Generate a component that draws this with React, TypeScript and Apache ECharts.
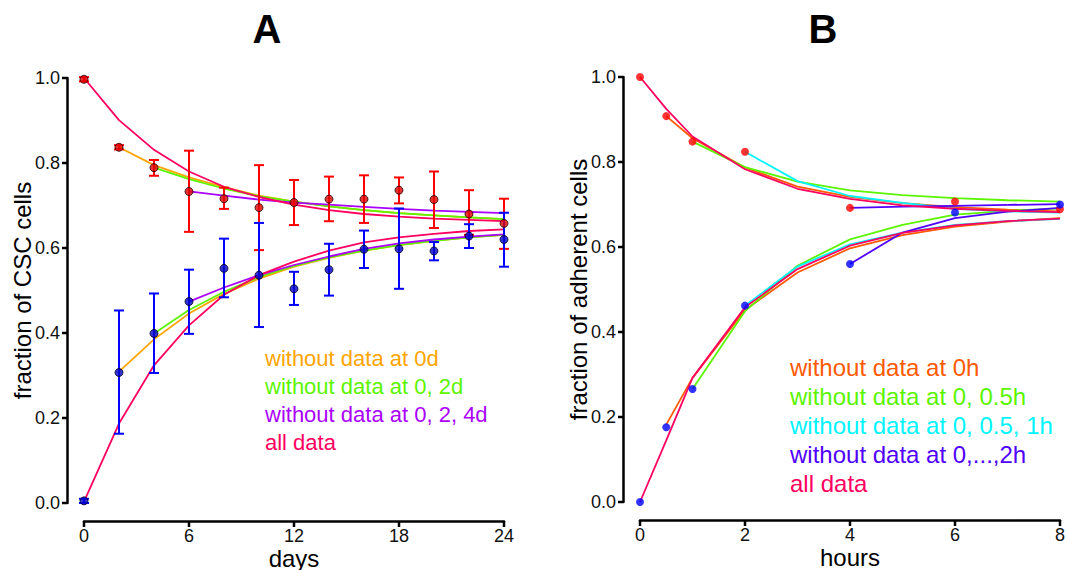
import React, { useEffect, useRef } from "react";
import * as echarts from "echarts";

// ---------- Panel A data (days) ----------
const daysPts = [0, 2, 4, 6, 8, 10, 12, 14, 16, 18, 20, 22, 24];
const cscRedMean = [0.997, 0.837, 0.789, 0.733, 0.716, 0.695, 0.707, 0.715, 0.715, 0.736, 0.714, 0.68, 0.658];
const cscRedLow = [0.992, 0.832, 0.77, 0.638, 0.692, 0.595, 0.654, 0.663, 0.659, 0.705, 0.647, 0.631, 0.598];
const cscRedHigh = [1.002, 0.842, 0.807, 0.829, 0.742, 0.795, 0.76, 0.768, 0.771, 0.766, 0.78, 0.736, 0.716];
const cscBlueMean = [0.005, 0.307, 0.399, 0.474, 0.552, 0.536, 0.504, 0.549, 0.597, 0.598, 0.593, 0.628, 0.62];
const cscBlueLow = [0.0, 0.163, 0.306, 0.398, 0.484, 0.414, 0.466, 0.488, 0.553, 0.504, 0.571, 0.6, 0.556];
const cscBlueHigh = [0.01, 0.453, 0.493, 0.549, 0.622, 0.659, 0.544, 0.61, 0.641, 0.693, 0.614, 0.656, 0.683];

const daysFit = [0, 2, 4, 6, 8, 10, 12, 14, 16, 18, 20, 22, 24];
const fitANames = ["without data at 0d", "without data at 0, 2d", "without data at 0, 2, 4d", "all data"];
const fitAColors = ["#FFA500", "#5CF500", "#AA00FF", "#FF0060"];
const fitAStart = [1, 2, 3, 0]; // index into daysFit where each fit begins
const fitADown = [
  [0.837, 0.795, 0.766, 0.743, 0.723, 0.709, 0.698, 0.689, 0.682, 0.677, 0.672, 0.668],
  [0.789, 0.762, 0.74, 0.722, 0.709, 0.698, 0.689, 0.682, 0.677, 0.672, 0.668],
  [0.733, 0.723, 0.714, 0.707, 0.702, 0.697, 0.692, 0.688, 0.685, 0.682],
  [1.0, 0.901, 0.831, 0.78, 0.744, 0.72, 0.702, 0.689, 0.68, 0.674, 0.669, 0.666, 0.663],
];
const fitAUp = [
  [0.309, 0.385, 0.446, 0.492, 0.528, 0.556, 0.577, 0.594, 0.607, 0.617, 0.625, 0.631],
  [0.399, 0.454, 0.497, 0.532, 0.558, 0.578, 0.594, 0.607, 0.617, 0.625, 0.631],
  [0.474, 0.507, 0.536, 0.56, 0.58, 0.598, 0.611, 0.62, 0.627, 0.632],
  [0.003, 0.187, 0.324, 0.418, 0.49, 0.536, 0.568, 0.594, 0.613, 0.625, 0.633, 0.64, 0.644],
];

// ---------- Panel B data (hours) ----------
const hoursPts = [0, 0.5, 1, 2, 4, 6, 8];
const adhRed = [1.0, 0.908, 0.848, 0.824, 0.692, 0.707, 0.689];
const adhBlue = [0.0, 0.176, 0.266, 0.462, 0.56, 0.681, 0.7];

const hoursFit = [0, 0.5, 1, 2, 3, 4, 5, 6, 7, 8];
const fitBNames = [
  "without data at 0h",
  "without data at 0, 0.5h",
  "without data at 0, 0.5, 1h",
  "without data at 0,...,2h",
  "all data",
];
const fitBColors = ["#FF5A00", "#5CF500", "#00F5FF", "#5000FF", "#FF0060"];
const fitBStart = [1, 2, 3, 5, 0];
const fitBDown = [
  [0.908, 0.856, 0.787, 0.742, 0.718, 0.703, 0.694, 0.688, 0.684],
  [0.848, 0.788, 0.754, 0.733, 0.722, 0.715, 0.71, 0.707],
  [0.824, 0.755, 0.72, 0.704, 0.69, 0.684, 0.681],
  [0.692, 0.695, 0.697, 0.699, 0.701],
  [1.0, 0.925, 0.86, 0.783, 0.737, 0.713, 0.698, 0.69, 0.685, 0.682],
];
const fitBUp = [
  [0.182, 0.292, 0.452, 0.54, 0.597, 0.628, 0.648, 0.66, 0.668],
  [0.266, 0.449, 0.556, 0.618, 0.652, 0.676, 0.685, 0.691],
  [0.462, 0.554, 0.606, 0.634, 0.652, 0.661, 0.666],
  [0.56, 0.634, 0.668, 0.683, 0.692],
  [0.0, 0.145, 0.292, 0.458, 0.548, 0.603, 0.633, 0.651, 0.661, 0.667],
];

const yTicks = [0, 0.2, 0.4, 0.6, 0.8, 1.0];
const xTicksA = [0, 6, 12, 18, 24];
const xTicksB = [0, 2, 4, 6, 8];
const FONT = "Liberation Sans, Arial, Helvetica, sans-serif";
const AXIS_COLOR = "black";
const X_OFF = 18;
const Y_OFF = 17;

function App() {
  const ref = useRef<HTMLDivElement>(null);

  useEffect(() => {
    if (!ref.current) return;
    const chart = echarts.init(ref.current, null, { renderer: "svg" });

    const axisCommonY = (gridIndex: number, name: string) => ({
      type: "value",
      gridIndex,
      position: "left",
      min: yTicks[0],
      max: yTicks[yTicks.length - 1],
      interval: 0.2,
      offset: Y_OFF,
      name,
      nameLocation: "middle",
      nameGap: 33,
      nameMoveOverlap: false,
      nameTextStyle: { fontSize: 24, color: "#000", fontFamily: FONT },
      axisLine: { show: true, onZero: false, lineStyle: { color: AXIS_COLOR, width: 2.5, type: "solid" } },
      axisTick: { show: false },
      axisLabel: {
        fontSize: 18,
        color: "#111",
        fontFamily: FONT,
        margin: 7,
        formatter: (v: number) => v.toFixed(1),
      },
      splitLine: { show: false },
    });

    const axisCommonX = (gridIndex: number, name: string, ticks: number[]) => ({
      type: "value",
      gridIndex,
      position: "bottom",
      min: ticks[0],
      max: ticks[ticks.length - 1],
      interval: ticks[1] - ticks[0],
      offset: X_OFF,
      name,
      nameLocation: "middle",
      nameGap: 25,
      nameMoveOverlap: false,
      nameTextStyle: { fontSize: 24, color: "#000", fontFamily: FONT, verticalAlign: "top" },
      axisLine: { show: true, onZero: false, lineStyle: { color: AXIS_COLOR, width: 2.5, type: "solid" } },
      axisTick: { show: false },
      axisLabel: { fontSize: 18, color: "#111", fontFamily: FONT, margin: 6 },
      splitLine: { show: false },
    });

    // outward R-style ticks, placed through the axes' scales
    const xTickDecor = (idx: number, ticks: number[]) => ({
      type: "custom",
      xAxisIndex: idx,
      yAxisIndex: idx,
      clip: false,
      z: 5,
      data: ticks.map((t) => [t, yTicks[0]]),
      encode: { x: 0, y: 1 },
      renderItem: (_params: any, api: any) => {
        const p = api.coord([api.value(0), api.value(1)]);
        const y = p[1] + X_OFF;
        return {
          type: "line",
          shape: { x1: p[0], y1: y, x2: p[0], y2: y + 6 },
          style: { stroke: AXIS_COLOR, lineWidth: 2.5 },
        };
      },
    });

    const yTickDecor = (idx: number, xMin: number) => ({
      type: "custom",
      xAxisIndex: idx,
      yAxisIndex: idx,
      clip: false,
      z: 5,
      data: yTicks.map((v) => [xMin, v]),
      encode: { x: 0, y: 1 },
      renderItem: (_params: any, api: any) => {
        const p = api.coord([api.value(0), api.value(1)]);
        const x = p[0] - Y_OFF;
        return {
          type: "line",
          shape: { x1: x, y1: p[1], x2: x - 5, y2: p[1] },
          style: { stroke: AXIS_COLOR, lineWidth: 2.5 },
        };
      },
    });

    const errorSeries = (mean: number[], low: number[], high: number[], color: string) => ({
      type: "custom",
      xAxisIndex: 0,
      yAxisIndex: 0,
      z: 3,
      clip: false,
      data: daysPts.map((d, i) => [d, low[i], high[i], mean[i]]),
      encode: { x: 0, y: [1, 2] },
      renderItem: (_params: any, api: any) => {
        const x = api.value(0);
        const pLo = api.coord([x, api.value(1)]);
        const pHi = api.coord([x, api.value(2)]);
        const w = 5;
        const st = { stroke: color, lineWidth: 2 };
        return {
          type: "group",
          children: [
            { type: "line", shape: { x1: pLo[0], y1: pLo[1], x2: pHi[0], y2: pHi[1] }, style: st },
            { type: "line", shape: { x1: pLo[0] - w, y1: pLo[1], x2: pLo[0] + w, y2: pLo[1] }, style: st },
            { type: "line", shape: { x1: pHi[0] - w, y1: pHi[1], x2: pHi[0] + w, y2: pHi[1] }, style: st },
          ],
        };
      },
    });

    const lineSeries = (
      xs: number[],
      start: number,
      vals: number[],
      color: string,
      axis: number,
      name: string
    ) => ({
      type: "line",
      name,
      xAxisIndex: axis,
      yAxisIndex: axis,
      data: xs.slice(start).map((x, i) => [x, vals[i]]),
      symbol: "none",
      smooth: false,
      clip: false,
      z: 2,
      lineStyle: { color, width: 1.8 },
      itemStyle: { color },
    });

    const series: any[] = [];
    fitANames.forEach((n, k) => {
      series.push(lineSeries(daysFit, fitAStart[k], fitADown[k], fitAColors[k], 0, n));
      series.push(lineSeries(daysFit, fitAStart[k], fitAUp[k], fitAColors[k], 0, n));
    });
    fitBNames.forEach((n, k) => {
      series.push(lineSeries(hoursFit, fitBStart[k], fitBDown[k], fitBColors[k], 1, n));
      series.push(lineSeries(hoursFit, fitBStart[k], fitBUp[k], fitBColors[k], 1, n));
    });
    series.push(errorSeries(cscRedMean, cscRedLow, cscRedHigh, "#FF0000"));
    series.push(errorSeries(cscBlueMean, cscBlueLow, cscBlueHigh, "#0000FF"));
    series.push({
      type: "scatter",
      xAxisIndex: 0,
      yAxisIndex: 0,
      z: 4,
      clip: false,
      symbolSize: 8,
      data: daysPts.map((d, i) => [d, cscRedMean[i]]),
      itemStyle: { color: "#E00000", borderColor: "#200000", borderWidth: 1 },
    });
    series.push({
      type: "scatter",
      xAxisIndex: 0,
      yAxisIndex: 0,
      z: 4,
      clip: false,
      symbolSize: 8,
      data: daysPts.map((d, i) => [d, cscBlueMean[i]]),
      itemStyle: { color: "#0000C8", borderColor: "#000020", borderWidth: 1 },
    });
    series.push({
      type: "scatter",
      xAxisIndex: 1,
      yAxisIndex: 1,
      z: 4,
      clip: false,
      symbolSize: 8,
      data: hoursPts.map((h, i) => [h, adhRed[i]]),
      itemStyle: { color: "#FF0000" },
    });
    series.push({
      type: "scatter",
      xAxisIndex: 1,
      yAxisIndex: 1,
      z: 4,
      clip: false,
      symbolSize: 8,
      data: hoursPts.map((h, i) => [h, adhBlue[i]]),
      itemStyle: { color: "#0000FF" },
    });
    series.push(xTickDecor(0, xTicksA));
    series.push(xTickDecor(1, xTicksB));
    series.push(yTickDecor(0, xTicksA[0]));
    series.push(yTickDecor(1, xTicksB[0]));

    const graphics: any[] = [
      {
        type: "text",
        x: 267,
        y: 29,
        style: { text: "A", font: `bold 40px ${FONT}`, fill: "#000", textAlign: "center", textVerticalAlign: "middle" },
      },
      {
        type: "text",
        x: 823,
        y: 29,
        style: { text: "B", font: `bold 40px ${FONT}`, fill: "#000", textAlign: "center", textVerticalAlign: "middle" },
      },
    ];
    fitANames.forEach((n, k) => {
      graphics.push({
        type: "text",
        x: 265,
        y: 358 + k * 28,
        style: { text: n, font: `22px ${FONT}`, fill: fitAColors[k], textAlign: "left", textVerticalAlign: "middle" },
      });
    });
    fitBNames.forEach((n, k) => {
      graphics.push({
        type: "text",
        x: 790,
        y: 367 + k * 29,
        style: { text: n, font: `24px ${FONT}`, fill: fitBColors[k], textAlign: "left", textVerticalAlign: "middle" },
      });
    });

    chart.setOption({
      animation: false,
      backgroundColor: "#fff",
      textStyle: { fontFamily: FONT },
      grid: [
        { left: 84, top: 78, width: 420, height: 425, containLabel: false, outerBoundsMode: "none" },
        { left: 640, top: 77, width: 420, height: 425, containLabel: false, outerBoundsMode: "none" },
      ],
      xAxis: [axisCommonX(0, "days", xTicksA), axisCommonX(1, "hours", xTicksB)],
      yAxis: [axisCommonY(0, "fraction of CSC cells"), axisCommonY(1, "fraction of adherent cells")],
      series,
      graphic: graphics,
    });

    return () => chart.dispose();
  }, []);

  return (
    <div
      ref={ref}
      style={{ position: "absolute", left: 0, top: 0, width: 1067, height: 570, background: "#fff" }}
    />
  );
}

export default App;
